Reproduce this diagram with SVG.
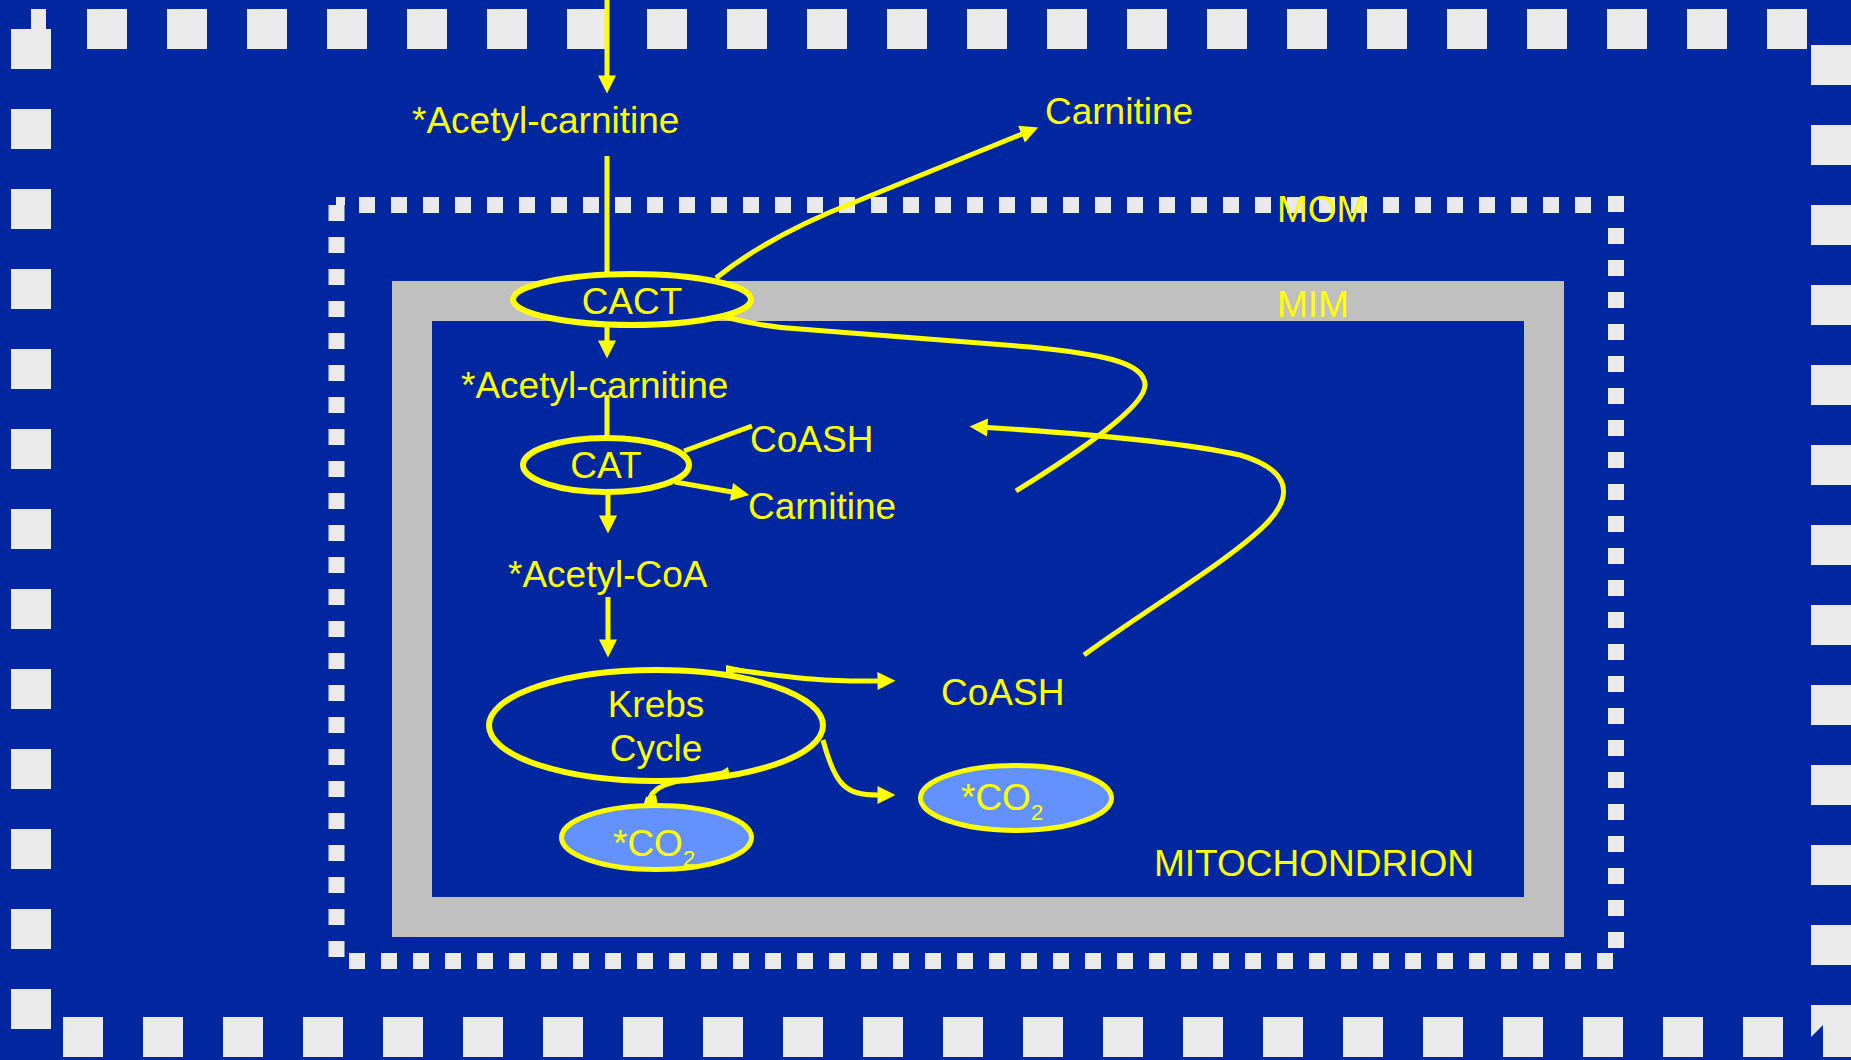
<svg xmlns="http://www.w3.org/2000/svg" width="1851" height="1060" viewBox="0 0 1851 1060">
  <style>
    .t { font-family: "Liberation Sans", Arial, sans-serif; font-size: 37px; fill: #FFFF00; }
    .sub { font-size: 22px; }
    .dash { stroke: #EAEAEA; fill: none; }
    .big { stroke-width: 40; stroke-dasharray: 40 40; }
    .small { stroke-width: 16; stroke-dasharray: 16 16; }
    .ln { stroke: #FFFF00; stroke-width: 5; fill: none; }
    .arr { marker-end: url(#ah); }
    .node { stroke: #FFFF00; stroke-width: 6; fill: #0026A0; }
    .co2 { stroke: #FFFF00; stroke-width: 5; fill: #6392FF; }
  </style>
  <defs>
    <marker id="ah" markerUnits="userSpaceOnUse" markerWidth="19" markerHeight="18" viewBox="0 0 19 18" refX="0.5" refY="9" orient="auto" overflow="visible">
      <path d="M0,0 L18,9 L0,18 z" fill="#FFFF00"/>
    </marker>
  </defs>

  <rect x="0" y="0" width="1851" height="1060" fill="#0026A0"/>

  <!-- outer frame -->
  <g id="outer-frame" fill="#EAEAEA">
    <line class="dash big" x1="87" y1="29" x2="1807" y2="29"/>
    <line class="dash big" x1="31" y1="29" x2="31" y2="1029"/>
    <line class="dash big" x1="63" y1="1037" x2="1783" y2="1037"/>
    <line class="dash big" x1="1831" y1="45" x2="1831" y2="965"/>
    <rect x="31" y="9" width="15" height="20"/>
    <polygon points="1811,1005 1851,1005 1851,1057 1823,1057 1823,1025 1811,1037"/>
  </g>

  <!-- MOM -->
  <g id="mom" fill="#EAEAEA">
    <line class="dash small" x1="359" y1="205" x2="1591" y2="205"/>
    <line class="dash small" x1="336.5" y1="205" x2="336.5" y2="957"/>
    <line class="dash small" x1="349" y1="961" x2="1613" y2="961"/>
    <line class="dash small" x1="1616" y1="196" x2="1616" y2="948"/>
    <rect x="336" y="197" width="9" height="8"/>
    <text class="t" x="1277" y="222">MOM</text>
  </g>

  <!-- MIM -->
  <g id="mim">
    <rect x="392" y="281" width="1172" height="656" fill="#C0C0C0"/>
    <rect x="432" y="321" width="1092" height="576" fill="#0026A0"/>
    <text class="t" x="1277" y="317">MIM</text>
    <text class="t" x="1154" y="876">MITOCHONDRION</text>
  </g>

  <!-- connectors -->
  <g id="connectors">
    <line class="ln arr" x1="607" y1="0" x2="607" y2="76"/>
    <line class="ln" x1="607" y1="156" x2="607" y2="280"/>
    <path class="ln arr" d="M716,278 Q770,235 855,202 L1022,134"/>
    <path class="ln" d="M725,317 C760,326 780,328 800,329 L1030,347 C1100,354 1145,362 1145,385 C1145,405 1090,445 1016,491"/>
    <line class="ln arr" x1="607" y1="322" x2="607" y2="341"/>
    <line class="ln" x1="607" y1="395" x2="607" y2="442"/>
    <line class="ln" x1="684" y1="451" x2="752" y2="426"/>
    <line class="ln arr" x1="675" y1="482" x2="732" y2="492"/>
    <line class="ln arr" x1="608" y1="492" x2="608" y2="516"/>
    <line class="ln arr" x1="608" y1="597" x2="608" y2="640"/>
    <path class="ln arr" d="M1084,655 C1150,607 1230,560 1265,525 C1295,495 1290,470 1240,455 C1170,440 1060,432 987,427.5"/>
  </g>

  <g id="acetyl-carnitine-out">
    <text class="t" x="412" y="133">*Acetyl-carnitine</text>
  </g>
  <g id="carnitine-out">
    <text class="t" x="1045" y="124">Carnitine</text>
  </g>
  <g id="cact">
    <ellipse class="node" cx="632" cy="299.5" rx="119" ry="25.5"/>
    <text class="t" x="632" y="314" text-anchor="middle">CACT</text>
  </g>
  <g id="acetyl-carnitine-in">
    <text class="t" x="461" y="398">*Acetyl-carnitine</text>
  </g>
  <g id="cat">
    <ellipse class="node" cx="606" cy="465" rx="83" ry="27"/>
    <text class="t" x="606" y="478" text-anchor="middle">CAT</text>
  </g>
  <g id="coash-1">
    <text class="t" x="750" y="452">CoASH</text>
  </g>
  <g id="carnitine-in">
    <text class="t" x="748" y="519">Carnitine</text>
  </g>
  <g id="acetyl-coa">
    <text class="t" x="508" y="587">*Acetyl-CoA</text>
  </g>
  <g id="krebs">
    <ellipse class="node" cx="656" cy="725.5" rx="167" ry="55.5"/>
    <text class="t" x="656" y="717" text-anchor="middle">Krebs</text>
    <text class="t" x="656" y="761" text-anchor="middle">Cycle</text>
  </g>
  <g id="krebs-connectors">
    <path class="ln arr" d="M728,669 C790,677 820,682 878,681"/>
    <polygon points="726,665 750,670 726,674" fill="#FFFF00"/>
    <path class="ln arr" d="M823,740 C835,785 845,795 878,795"/>
    <path class="ln" stroke-width="6" d="M728,772 C700,778 668,780 656,790 C650,795 649,799 649,805"/>
    <polygon points="712,777 728,767 730,777" fill="#FFFF00"/>
    <polygon points="643,806 646,797 656,795 658,806" fill="#FFFF00"/>
  </g>
  <g id="coash-2">
    <text class="t" x="941" y="705">CoASH</text>
  </g>
  <g id="co2-left">
    <ellipse class="co2" cx="656.5" cy="837.5" rx="95" ry="32"/>
    <text class="t" x="613" y="856">*CO<tspan class="sub" dy="10">2</tspan></text>
  </g>
  <g id="co2-right">
    <ellipse class="co2" cx="1016" cy="798" rx="95.5" ry="32.5"/>
    <text class="t" x="961" y="810">*CO<tspan class="sub" dy="10">2</tspan></text>
  </g>
</svg>
